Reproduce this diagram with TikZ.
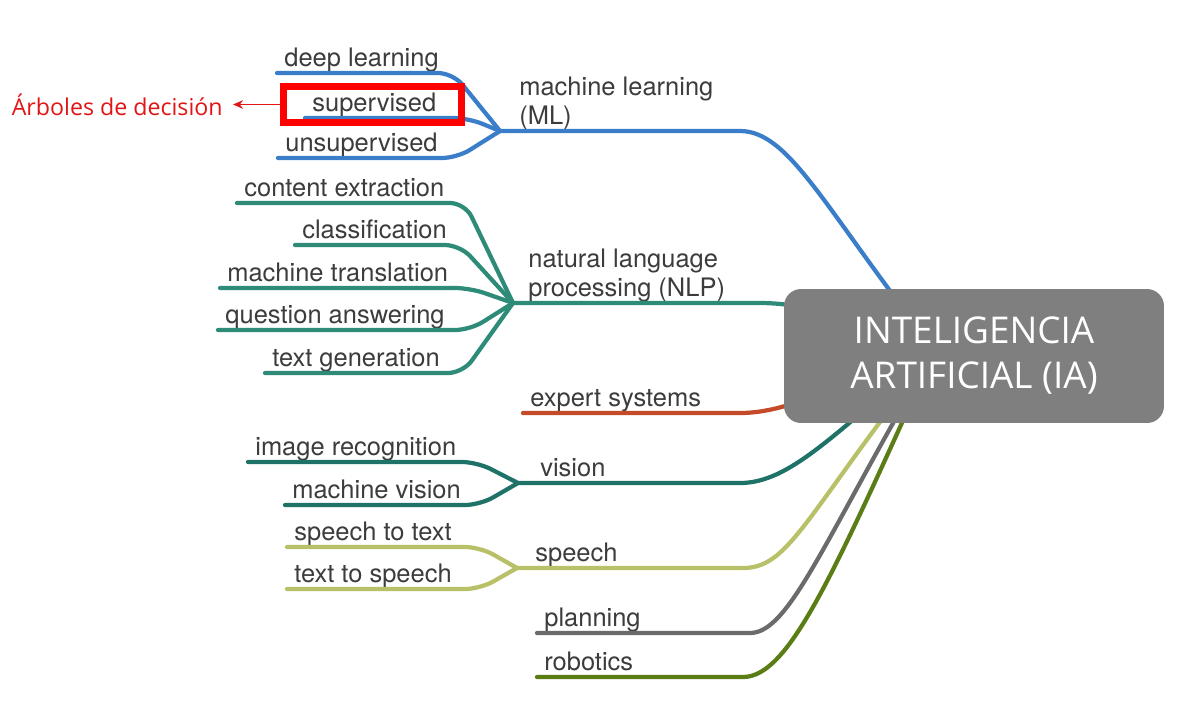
\documentclass[tikz,border=0pt]{standalone}
\usepackage{fontspec}
\usepackage{tikz}
\usetikzlibrary{arrows,arrows.meta,positioning}
\newfontfamily\heros{TeX Gyre Heros}
\newfontfamily\opensans{Open Sans}
\definecolor{mlblue}{RGB}{58,125,200}
\definecolor{nlpteal}{RGB}{46,139,120}
\definecolor{esred}{RGB}{196,74,42}
\definecolor{visteal}{RGB}{31,114,104}
\definecolor{spolive}{RGB}{184,192,104}
\definecolor{plgray}{RGB}{107,107,107}
\definecolor{robgreen}{RGB}{90,125,22}
\definecolor{txtgray}{RGB}{60,60,60}
\definecolor{boxgray}{RGB}{127,127,127}
\definecolor{decred}{RGB}{226,20,20}

\begin{document}
\begin{tikzpicture}[x=0.02cm,y=-0.02cm,>=stealth',
        leaf/.style={anchor=south west,font=\heros\fontsize{14.5}{16.5}\selectfont,
          text=txtgray,text depth=0pt,inner xsep=0.14cm,inner ysep=0.12cm},
        branch/.style={leaf,align=left},
        trunk/.style={line width=2.4pt,line cap=round},
        link/.style={trunk,rounded corners=0.3cm},
        hubbox/.style={fill=boxgray,text=white,rounded corners=0.34cm,align=center,
          minimum width=7.6cm,minimum height=2.68cm,
          font=\opensans\fontsize{21}{25.6}\selectfont},
        hlbox/.style={draw=red,line width=4pt,minimum width=3.56cm,
          minimum height=0.72cm,inner sep=0pt},
        declabel/.style={text=decred,font=\opensans\fontsize{13.2}{15}\selectfont,inner xsep=0.2cm}]
      \path[use as bounding box,fill=white] (0,0) rectangle (1179,721);
      \coordinate (hub) at (935,350);
      \coordinate (mlj) at (500,131);
      \coordinate (nlpj) at (513,303);
      \coordinate (visj) at (518,483);
      \coordinate (spj) at (517,568);

      \node[leaf] (dl) at (277,73) {deep learning};
      \node[leaf] (sup) at (305,118) {supervised};
      \node[leaf] (unsup) at (278,158) {unsupervised};
      \node[branch,above right=0cm and 0.24cm of mlj] (ml) {machine learning\\(ML)};
      \draw[link,mlblue] (dl.south west) -- ++(176,0) -- (mlj);
      \draw[link,mlblue] (sup.south west) -- ++(163,0) -- (mlj);
      \draw[link,mlblue] (unsup.south west) -- ++(179,0) -- (mlj);
      \draw[trunk,mlblue] (mlj) -- (740,131) .. controls (790,131) and (825,210) .. (hub);

      \node[leaf] (ce) at (237,203) {content extraction};
      \node[leaf] (cls) at (295,245) {classification};
      \node[leaf] (mt) at (220,288) {machine translation};
      \node[leaf] (qa) at (218,330) {question answering};
      \node[leaf] (tg) at (265,373) {text generation};
      \node[branch,above right=0cm and 0.16cm of nlpj] (nlp) {natural language\\processing (NLP)};
      \draw[link,nlpteal] (ce.south west) -- ++(228,0) -- (nlpj);
      \draw[link,nlpteal] (cls.south west) -- ++(165,0) -- (nlpj);
      \draw[link,nlpteal] (mt.south west) -- ++(250,0) -- (nlpj);
      \draw[link,nlpteal] (qa.south west) -- ++(252,0) -- (nlpj);
      \draw[link,nlpteal] (tg.south west) -- ++(198,0) -- (nlpj);
      \draw[trunk,nlpteal] (nlpj) -- (760,303) .. controls (820,303) and (880,330) .. (hub);

      \node[leaf] (es) at (523,413) {expert systems};
      \draw[trunk,esred] (es.south west) -- (740,413) .. controls (800,413) and (860,370) .. (hub);

      \node[leaf] (ir) at (248,462) {image recognition};
      \node[leaf] (mv) at (285,505) {machine vision};
      \node[branch,above right=0cm and 0.3cm of visj] (vis) {vision};
      \draw[link,visteal] (ir.south west) -- ++(229,0) -- (visj);
      \draw[link,visteal] (mv.south west) -- ++(195,0) -- (visj);
      \draw[trunk,visteal] (visj) -- (740,483) .. controls (790,483) and (835,433) .. (hub);

      \node[leaf] (stt) at (287,547) {speech to text};
      \node[leaf] (tts) at (287,589) {text to speech};
      \node[branch,above right=0cm and 0.22cm of spj] (sp) {speech};
      \draw[link,spolive] (stt.south west) -- ++(193,0) -- (spj);
      \draw[link,spolive] (tts.south west) -- ++(193,0) -- (spj);
      \draw[trunk,spolive] (spj) -- (743,568) .. controls (790,568) and (805,515) .. (hub);

      \node[leaf] (pl) at (537,633) {planning};
      \draw[trunk,plgray] (pl.south west) -- (750,633) .. controls (790,633) and (825,537) .. (hub);

      \node[leaf] (rob) at (537,677) {robotics};
      \draw[trunk,robgreen] (rob.south west) -- (743,677) .. controls (790,677) and (835,570) .. (hub);

      \node[hubbox] (ia) at (974,356) {INTELIGENCIA\\ARTIFICIAL (IA)};

      \node[hlbox] (hl) at (372.5,104.5) {};
      \node[declabel,left=0.94cm of hl] (dec) {Árboles de decisión};
      \draw[-{Stealth[length=0.2cm,width=0.17cm]},decred,line width=0.9pt] (hl.west) -- (dec.east);
    \end{tikzpicture}
\end{document}
